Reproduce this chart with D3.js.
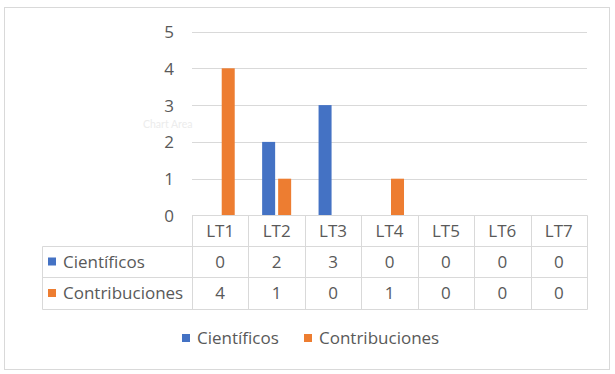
<!DOCTYPE html>
<html><head><meta charset="utf-8">
<script src="https://cdn.jsdelivr.net/npm/d3@7"></script>
<style>
html,body{margin:0;padding:0;background:#fff;}
svg{display:block;font-family:"Open Sans",Lato,sans-serif;}
</style></head>
<body>
<svg id="c" width="615" height="374"></svg>
<script>
const categories = ["LT1","LT2","LT3","LT4","LT5","LT6","LT7"];
const seriesNames = ["Científicos","Contribuciones"];
const cientificos = [0,2,3,0,0,0,0];
const contribuciones = [4,1,0,1,0,0,0];
const yTicks = [0,1,2,3,4,5];
const colors = ["#4472C4","#ED7D31"];
const seriesValues = [cientificos, contribuciones];

const svg = d3.select("#c");
const textColor = "#595959", gridColor = "#d9d9d9";
const FONT = "'Open Sans',Lato,sans-serif";
const FS = 17;

// outer frame
svg.append("rect").attr("x",4.5).attr("y",7.5).attr("width",605).attr("height",362)
  .attr("fill","#fff").attr("stroke",gridColor).attr("stroke-width",1);

const x0 = d3.scaleBand().domain(categories).range([192,587]);
const x1 = d3.scaleBand().domain(seriesNames).range([0,x0.bandwidth()]).paddingInner(0.1875).paddingOuter(0.856);
const y = d3.scaleLinear().domain([0,5]).range([215.5,31.5]);

// gridlines
svg.append("g").selectAll("line").data(yTicks.filter(d=>d>0)).join("line")
  .attr("x1",192).attr("x2",587).attr("y1",d=>Math.round(y(d))+0.5).attr("y2",d=>Math.round(y(d))+0.5)
  .attr("stroke",gridColor).attr("stroke-width",1);

// y axis labels
const yAxis = d3.axisLeft(y).tickValues(yTicks).tickSize(0).tickPadding(0).tickFormat(d3.format("d"));
const ga = svg.append("g").attr("transform","translate(174,0)").call(yAxis);
ga.select(".domain").remove();
ga.selectAll("text").attr("font-size",17).attr("fill",textColor).attr("font-family",FONT).attr("dy","0.35em");

// faint "Chart Area" tooltip ghost
svg.append("text").attr("x",143).attr("y",128).attr("font-family","Lato,sans-serif").attr("font-size",10.5).attr("fill","#ececec").text("Chart Area");

// bars
const data = categories.map((c,i)=>({cat:c, vals:seriesNames.map((s,j)=>({s, j, v:seriesValues[j][i]}))}));
svg.append("g").selectAll("g").data(data).join("g")
  .attr("transform",d=>`translate(${x0(d.cat)},0)`)
  .selectAll("rect").data(d=>d.vals.filter(v=>v.v>0)).join("rect")
  .attr("x",d=>x1(d.s)).attr("width",x1.bandwidth())
  .attr("y",d=>y(d.v)).attr("height",d=>y(0)-y(d.v))
  .attr("fill",d=>colors[d.j]);

// data table
const rowTops = [215.5,246.5,277.5,309.5];
const tableLeft = 42.5;
const tg = svg.append("g");
tg.append("line").attr("x1",x0.range()[0]).attr("x2",587.5).attr("y1",rowTops[0]).attr("y2",rowTops[0]).attr("stroke",gridColor);
for (let r=1;r<rowTops.length;r++){
  tg.append("line").attr("x1",tableLeft).attr("x2",587.5).attr("y1",rowTops[r]).attr("y2",rowTops[r]).attr("stroke",gridColor);
}
const vx = categories.map(c=>Math.round(x0(c))+0.5).concat([587.5]);
vx.forEach(xv=>{
  tg.append("line").attr("x1",xv).attr("x2",xv).attr("y1",rowTops[0]).attr("y2",rowTops[3]).attr("stroke",gridColor);
});
tg.append("line").attr("x1",tableLeft).attr("x2",tableLeft).attr("y1",rowTops[1]).attr("y2",rowTops[3]).attr("stroke",gridColor);

tg.selectAll("text.h").data(categories).join("text").attr("class","h")
  .attr("x",d=>x0(d)+x0.bandwidth()/2).attr("y",(rowTops[0]+rowTops[1])/2)
  .attr("dy","0.35em").attr("text-anchor","middle").attr("font-size",FS).attr("fill",textColor).text(d=>d);

seriesNames.forEach((s,j)=>{
  const cy = (rowTops[j+1]+rowTops[j+2])/2;
  tg.append("rect").attr("x",48).attr("y",cy-4.5).attr("width",8).attr("height",8).attr("fill",colors[j]);
  tg.append("text").attr("x",63).attr("y",cy).attr("dy","0.35em").attr("font-size",FS).attr("fill",textColor).text(s);
  tg.selectAll(null).data(seriesValues[j]).join("text")
    .attr("x",(d,i)=>x0(categories[i])+x0.bandwidth()/2).attr("y",cy).attr("dy","0.35em")
    .attr("text-anchor","middle").attr("font-size",FS).attr("fill",textColor).text(d=>d);
});

// legend
const legend = svg.append("g");
const legX = [182,304];
seriesNames.forEach((s,j)=>{
  legend.append("rect").attr("x",legX[j]).attr("y",334).attr("width",8).attr("height",8).attr("fill",colors[j]);
  legend.append("text").attr("x",legX[j]+15).attr("y",338.5).attr("dy","0.35em").attr("font-size",FS).attr("fill",textColor).text(s);
});
</script>
</body></html>
